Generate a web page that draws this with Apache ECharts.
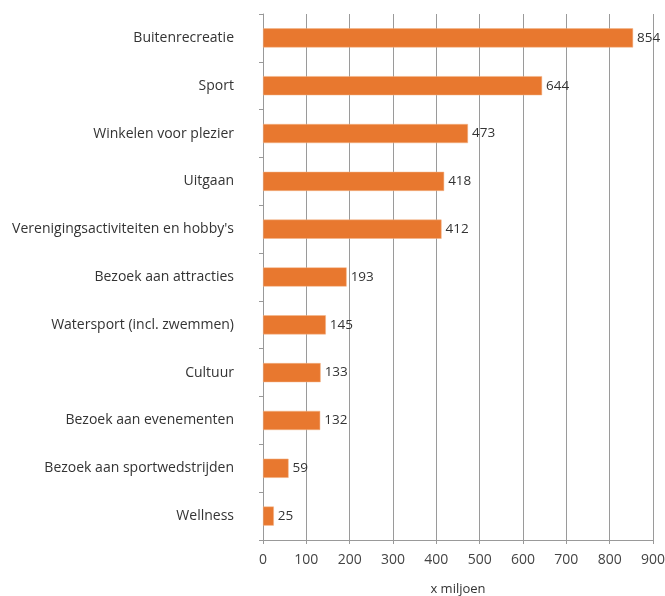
<!DOCTYPE html>
<html>
<head>
<meta charset="utf-8">
<script src="https://cdn.jsdelivr.net/npm/echarts@6/dist/echarts.min.js"></script>
<style>
  html, body { margin: 0; padding: 0; background: #fff; }
  #chart { width: 665px; height: 596px; }
</style>
</head>
<body>
<div id="chart"></div>
<script>
// categories top to bottom
const categories = [
  'Buitenrecreatie',
  'Sport',
  'Winkelen voor plezier',
  'Uitgaan',
  "Verenigingsactiviteiten en hobby's",
  'Bezoek aan attracties',
  'Watersport (incl. zwemmen)',
  'Cultuur',
  'Bezoek aan evenementen',
  'Bezoek aan sportwedstrijden',
  'Wellness'
]
const values = [854, 644, 473, 418, 412, 193, 145, 133, 132, 59, 25]
const axisTicks = [0, 100, 200, 300, 400, 500, 600, 700, 800, 900]

const chart = echarts.init(document.getElementById('chart'))

const option = {
  animation: false,
  textStyle: { fontFamily: 'Open Sans, sans-serif' },
  grid: { left: 263, right: 12, top: 14, bottom: 56, outerBoundsMode: 'none' },
  xAxis: {
    type: 'value',
    min: axisTicks[0],
    max: axisTicks[axisTicks.length - 1],
    interval: 100,
    name: 'x miljoen',
    nameLocation: 'middle',
    nameGap: 43,
    nameTextStyle: { color: '#333', fontSize: 13 },
    axisLine: { show: true, lineStyle: { color: '#999' } },
    axisTick: { show: true, length: 4, lineStyle: { color: '#999' } },
    axisLabel: { color: '#444', fontSize: 14, margin: 13 },
    splitLine: { show: true, lineStyle: { color: '#9a9a9a', width: 1 } }
  },
  yAxis: {
    type: 'category',
    data: categories,
    inverse: true,
    axisLine: { show: true, lineStyle: { color: '#999' } },
    axisTick: { show: true, length: 4, lineStyle: { color: '#999' } },
    axisLabel: { color: '#333', fontSize: 14, margin: 29 }
  },
  series: [
    {
      type: 'bar',
      data: values,
      barCategoryGap: '60%',
      itemStyle: { color: '#e8782f', borderColor: '#f3b488', borderWidth: 0.5 },
      label: { show: true, position: 'right', color: '#333', fontSize: 13.5, distance: 4 }
    }
  ]
}

chart.setOption(option)
</script>
</body>
</html>
